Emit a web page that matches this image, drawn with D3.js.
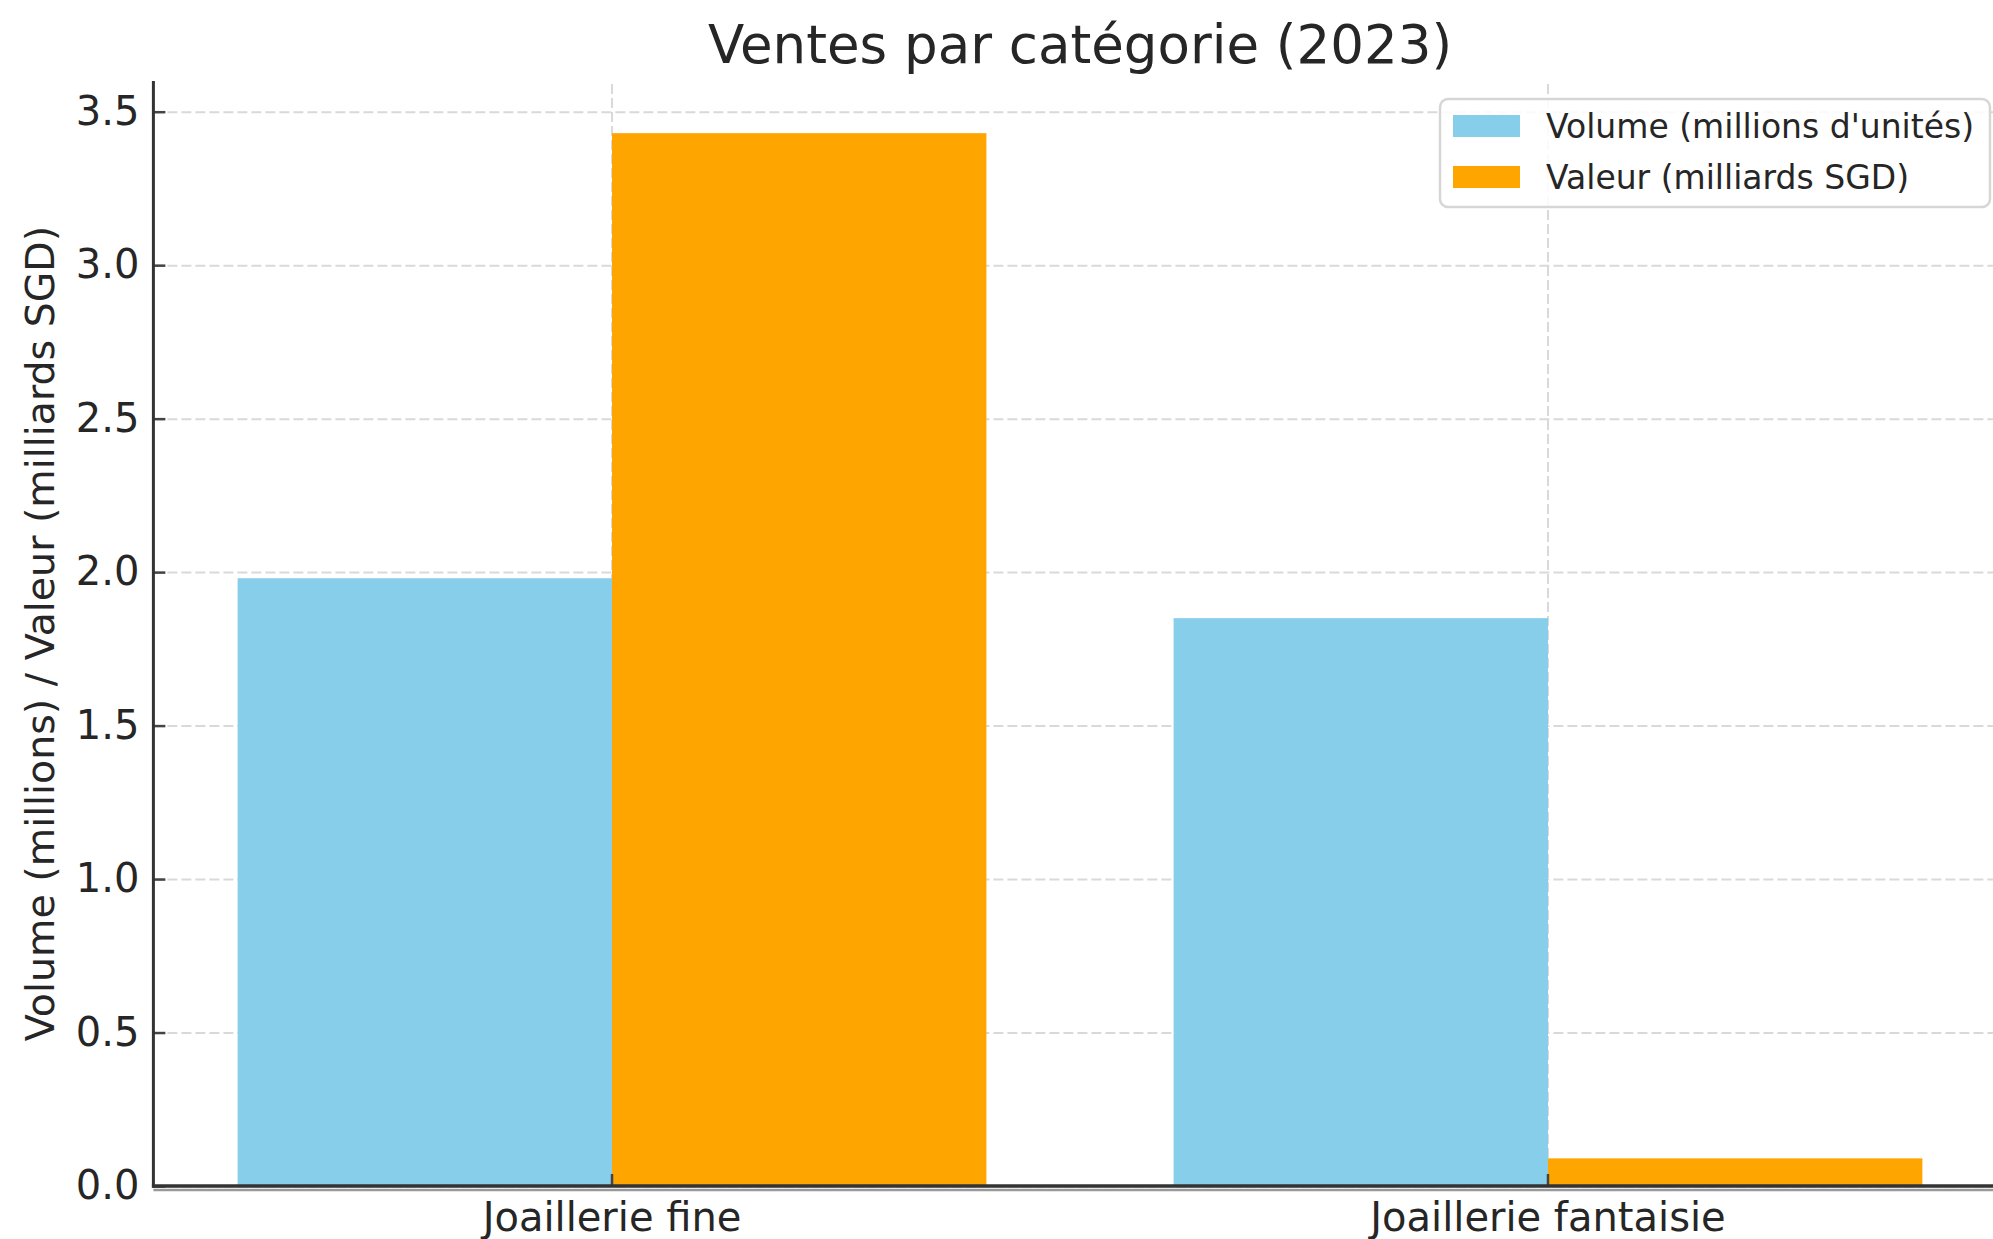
<!DOCTYPE html>
<html><head><meta charset="utf-8">
<script src="https://cdn.jsdelivr.net/npm/d3@7"></script>
<style>
html,body{margin:0;padding:0;background:#fff;}
svg{display:block;font-family:"DejaVu Sans",sans-serif;}
</style></head>
<body>
<svg id="chart" width="1993" height="1239"></svg>
<script>
const categories = ["Joaillerie fine", "Joaillerie fantaisie"];
const seriesNames = ["Volume (millions d'unités)", "Valeur (milliards SGD)"];
const volumeValues = [1.98, 1.85];
const valeurValues = [3.43, 0.09];
const yTicks = [0, 0.5, 1.0, 1.5, 2.0, 2.5, 3.0, 3.5];
const colors = ["#87CEEB", "#FFA500"];
const titleText = "Ventes par catégorie (2023)";
const yLabelText = "Volume (millions) / Valeur (milliards SGD)";

const seriesValues = [volumeValues, valeurValues];
const svg = d3.select("#chart");
const L = 153.4, R = 2006.6, T = 81, B = 1186;
const textColor = "#262626";

const x0 = d3.scaleBand().domain(categories).range([L, R]).paddingInner(0.2).paddingOuter(0.09);
const x1 = d3.scaleBand().domain(seriesNames).range([0, x0.bandwidth()]);
const y = d3.scaleLinear().domain([0, 3.6]).range([B, T]);
const color = d3.scaleOrdinal().domain(seriesNames).range(colors);

// grid
const gy = svg.append("g").attr("transform", `translate(${L},0)`)
  .call(d3.axisLeft(y).tickValues(yTicks).tickSize(-(R - L)).tickFormat(""));
gy.select(".domain").remove();
gy.selectAll("line").attr("stroke", "#d9d9d9").attr("stroke-width", 2).attr("stroke-dasharray", "10,4");
const gx = svg.append("g").attr("transform", `translate(0,${B})`)
  .call(d3.axisBottom(x0).tickSize(-(B - T)).tickFormat(""));
gx.select(".domain").remove();
gx.selectAll("line").attr("stroke", "#d9d9d9").attr("stroke-width", 2).attr("stroke-dasharray", "10,4");

// bars
const rows = categories.map((c, i) => ({cat: c, vals: seriesNames.map((s, j) => ({s, v: seriesValues[j][i]}))}));
svg.append("g").selectAll("g").data(rows).join("g")
  .attr("transform", d => `translate(${x0(d.cat)},0)`)
  .selectAll("rect").data(d => d.vals).join("rect")
  .attr("x", d => x1(d.s)).attr("width", x1.bandwidth())
  .attr("y", d => y(d.v)).attr("height", d => y(0) - y(d.v))
  .attr("fill", d => color(d.s));

// axes
const ay = svg.append("g").attr("transform", `translate(${L},0)`)
  .call(d3.axisLeft(y).tickValues(yTicks).tickSize(-12).tickPadding(14).tickFormat(d3.format(".1f")));
ay.select(".domain").remove();
ay.selectAll("line").attr("stroke", "#444").attr("stroke-width", 2.5);
ay.selectAll("text").attr("font-size", 40).attr("fill", textColor).attr("font-family", "DejaVu Sans");

const ax = svg.append("g").attr("transform", `translate(0,${B})`)
  .call(d3.axisBottom(x0).tickSize(-12).tickPadding(17));
ax.select(".domain").remove();
ax.selectAll("line").attr("stroke", "#444").attr("stroke-width", 2.5);
ax.selectAll("text").attr("font-size", 40).attr("fill", textColor).attr("font-family", "DejaVu Sans");

// spines
svg.append("line").attr("x1", L).attr("x2", L).attr("y1", T).attr("y2", B + 1.5)
  .attr("stroke", "#333").attr("stroke-width", 3);
svg.append("line").attr("x1", L).attr("x2", R).attr("y1", B + 4).attr("y2", B + 4)
  .attr("stroke", "#999").attr("stroke-width", 2.5);
svg.append("line").attr("x1", L - 1.5).attr("x2", R).attr("y1", B).attr("y2", B)
  .attr("stroke", "#333").attr("stroke-width", 3.5);

// title
svg.append("text").attr("x", (L + R) / 2).attr("y", 63).attr("text-anchor", "middle")
  .attr("font-size", 53).attr("fill", textColor).text(titleText);

// y label
svg.append("text").attr("transform", `translate(54,${(T + B) / 2}) rotate(-90)`)
  .attr("text-anchor", "middle").attr("font-size", 39.5).attr("fill", textColor).text(yLabelText);

// legend
const lg = svg.append("g");
lg.append("rect").attr("x", 1440).attr("y", 99).attr("width", 550).attr("height", 108).attr("rx", 8)
  .attr("fill", "#fff").attr("fill-opacity", 0.85).attr("stroke", "#d6d6d6").attr("stroke-width", 2.5);
const items = lg.selectAll("g.item").data(seriesNames).join("g").attr("class", "item")
  .attr("transform", (d, i) => `translate(1453,${126 + i * 51})`);
items.append("rect").attr("x", 0).attr("y", -11).attr("width", 67).attr("height", 22).attr("fill", d => color(d));
items.append("text").attr("x", 93).attr("y", 0).attr("dy", "0.35em").attr("font-size", 33)
  .attr("fill", textColor).text(d => d);
</script>
</body></html>
